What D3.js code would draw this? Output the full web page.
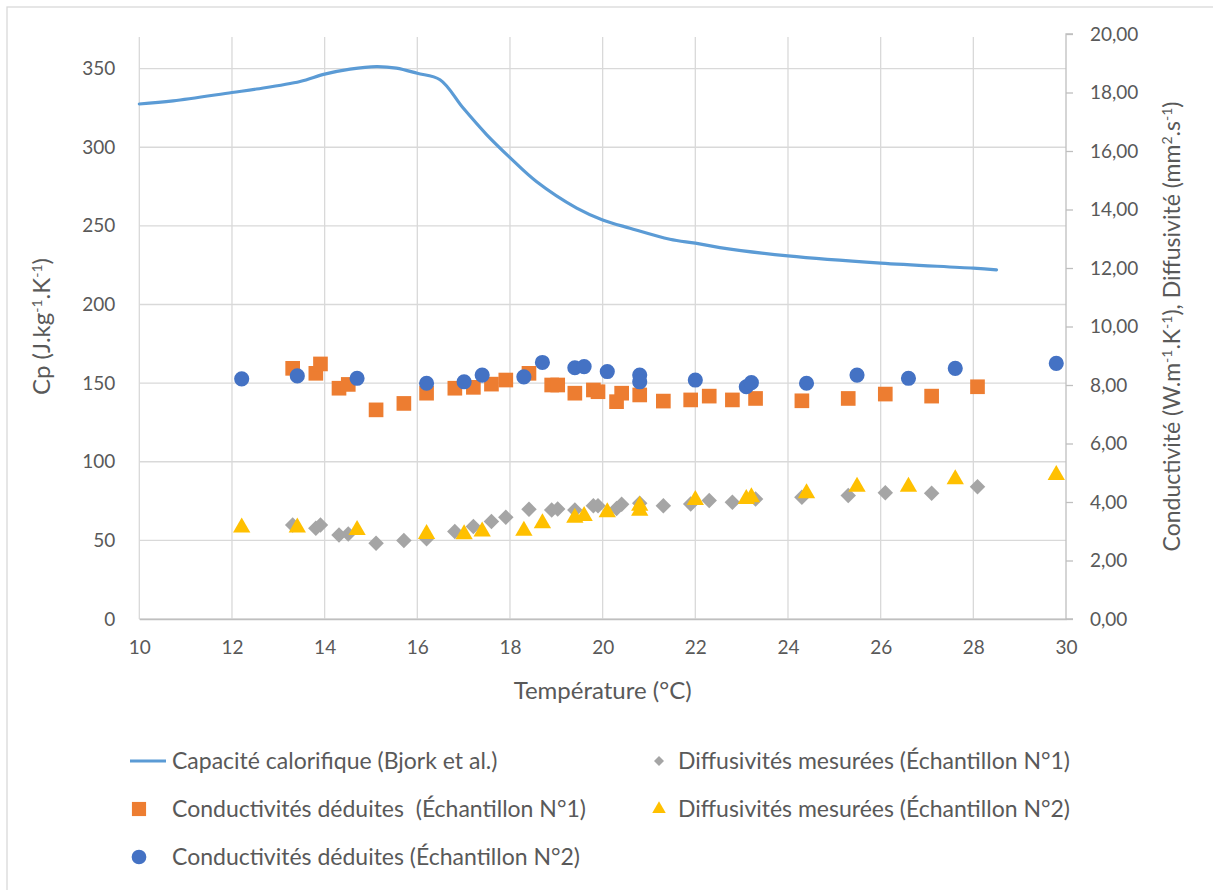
<!DOCTYPE html>
<html><head><meta charset="utf-8">
<script src="https://cdn.jsdelivr.net/npm/d3@7/dist/d3.min.js"></script>
<style>body{margin:0;background:#fff;}svg{display:block;font-family:Lato,"Open Sans",sans-serif;}</style>
</head><body>
<script>
// ---- Data ----
const cpTemp = [10, 10.73, 12, 12.53, 13.47, 14, 14.55, 15.12, 15.55, 16, 16.49, 16.99, 17.5, 18, 18.57, 19.44, 20, 20.59, 21.45, 22, 22.53, 24, 26, 28, 28.5];
const cpValues = [327.5, 329.5, 334.8, 337, 341.8, 346.5, 349.7, 351.3, 350.3, 347, 342.9, 324.9, 307.9, 293.4, 278.2, 261.3, 253.8, 248.5, 241.5, 239, 236.2, 230.9, 226.3, 223.1, 222];

const tempS1 = [13.31, 13.81, 13.91, 14.31, 14.51, 15.11, 15.71, 16.20, 16.81, 17.21, 17.60, 17.91, 18.41, 18.90, 19.03, 19.40, 19.80, 19.90, 20.30, 20.41, 20.80, 21.31, 21.90, 22.30, 22.80, 23.30, 24.30, 25.30, 26.10, 27.10, 28.09];
const diffS1 = [3.21, 3.10, 3.21, 2.87, 2.91, 2.59, 2.68, 2.74, 2.99, 3.16, 3.33, 3.48, 3.75, 3.73, 3.76, 3.73, 3.87, 3.87, 3.78, 3.92, 3.96, 3.87, 3.93, 4.05, 3.99, 4.10, 4.16, 4.22, 4.32, 4.30, 4.52];
const condS1 = [8.57, 8.40, 8.72, 7.89, 8.02, 7.15, 7.37, 7.72, 7.89, 7.92, 8.03, 8.17, 8.40, 8.00, 8.00, 7.72, 7.83, 7.77, 7.43, 7.72, 7.66, 7.45, 7.49, 7.62, 7.49, 7.54, 7.46, 7.54, 7.69, 7.62, 7.94];

const tempS2 = [12.21, 13.41, 14.70, 16.20, 17.01, 17.40, 18.30, 18.70, 19.40, 19.60, 20.10, 20.80, 20.80, 22.00, 23.10, 23.21, 24.40, 25.49, 26.60, 27.61, 29.79];
const diffS2 = [3.13, 3.13, 3.04, 2.91, 2.90, 2.99, 3.02, 3.27, 3.46, 3.52, 3.65, 3.87, 3.70, 4.07, 4.10, 4.16, 4.30, 4.52, 4.52, 4.78, 4.92];
const condS2 = [8.21, 8.31, 8.23, 8.06, 8.11, 8.34, 8.28, 8.77, 8.59, 8.63, 8.46, 8.34, 8.11, 8.17, 7.94, 8.08, 8.06, 8.34, 8.23, 8.57, 8.74];

const xTicks = [10, 12, 14, 16, 18, 20, 22, 24, 26, 28, 30];
const yLeftTicks = [0, 50, 100, 150, 200, 250, 300, 350];
const yRightTicks = [0, 2, 4, 6, 8, 10, 12, 14, 16, 18, 20];

const legendLabels = [
  "Capacité calorifique (Bjork et al.)",
  "Diffusivités mesurées (Échantillon N°1)",
  "Conductivités déduites  (Échantillon N°1)",
  "Diffusivités mesurées (Échantillon N°2)",
  "Conductivités déduites (Échantillon N°2)"
];

// ---- Layout ----
const W = 1213, H = 890;
const plot = {left: 139.3, right: 1066, top: 34, bottom: 619};
const txt = "#595959", grid = "#D9D9D9", axisCol = "#BFBFBF";
const FONT = 19;

const svg = d3.select("body").append("svg").attr("width", W).attr("height", H);

// chart border (cropped at right/bottom)
svg.append("rect").attr("x", 7).attr("y", 7).attr("width", 1240).attr("height", 920)
  .attr("fill", "none").attr("stroke", "#D9D9D9").attr("stroke-width", 1.3);

const x = d3.scaleLinear().domain([10, 30]).range([plot.left, plot.right]);
const yL = d3.scaleLinear().domain([0, 372]).range([plot.bottom, plot.top]);
const yR = d3.scaleLinear().domain([0, 20]).range([plot.bottom, plot.top]);

// gridlines
const g = svg.append("g");
g.selectAll("line.hg").data(yLeftTicks).join("line")
  .attr("x1", plot.left).attr("x2", plot.right)
  .attr("y1", d => yL(d)).attr("y2", d => yL(d))
  .attr("stroke", grid).attr("stroke-width", 1.3);
g.selectAll("line.vg").data(xTicks.filter(d => d < 30)).join("line")
  .attr("x1", d => x(d)).attr("x2", d => x(d))
  .attr("y1", plot.top + 3).attr("y2", plot.bottom)
  .attr("stroke", grid).attr("stroke-width", 1.3);

// right axis
const rAxis = d3.axisRight(yR).tickValues(yRightTicks).tickSize(7)
  .tickFormat(d => d3.format(".2f")(d).replace(".", ","));
const ra = svg.append("g").attr("transform", `translate(${plot.right},0)`).call(rAxis);
ra.select(".domain").attr("stroke", axisCol).attr("stroke-width", 1.3).attr("d", `M7,${plot.top}H0V${plot.bottom}H7`);
ra.selectAll(".tick line").attr("stroke", axisCol).attr("stroke-width", 1.3);
ra.selectAll(".tick text").attr("x", 24).attr("fill", txt).style("font-size", FONT + "px").style("font-family", "Lato");

// left axis (labels only)
const lAxis = d3.axisLeft(yL).tickValues(yLeftTicks).tickSize(0).tickPadding(24);
const la = svg.append("g").attr("transform", `translate(${plot.left},0)`).call(lAxis);
la.select(".domain").remove();
la.selectAll(".tick text").attr("fill", txt).style("font-size", FONT + "px").style("font-family", "Lato");

// bottom axis
const bAxis = d3.axisBottom(x).tickValues(xTicks).tickSize(0).tickPadding(22);
const ba = svg.append("g").attr("transform", `translate(0,${plot.bottom})`).call(bAxis);
ba.select(".domain").attr("stroke", axisCol).attr("stroke-width", 1.3);
ba.selectAll(".tick text").attr("fill", txt).style("font-size", FONT + "px").style("font-family", "Lato");

// axis titles
function supText(sel, parts) {
  parts.forEach(p => {
    if (typeof p === "string") sel.append("tspan").text(p);
    else sel.append("tspan").attr("baseline-shift", "super").style("font-size", "14px").text(p.sup);
  });
}
svg.append("text").attr("x", (plot.left + plot.right) / 2).attr("y", 699)
  .attr("text-anchor", "middle").attr("fill", txt).style("font-size", "24px").text("Température (°C)");

const lt = svg.append("text").attr("transform", `translate(50,${(plot.top + plot.bottom) / 2}) rotate(-90)`)
  .attr("text-anchor", "middle").attr("fill", txt).style("font-size", "24px");
supText(lt, ["Cp (J.kg", {sup: "-1"}, ".K", {sup: "-1"}, ")"]);

const rt = svg.append("text").attr("transform", `translate(1180,${(plot.top + plot.bottom) / 2}) rotate(-90)`)
  .attr("text-anchor", "middle").attr("fill", txt).style("font-size", "23px");
supText(rt, ["Conductivité (W.m", {sup: "-1"}, ".K", {sup: "-1"}, "), Diffusivité (mm", {sup: "2"}, ".s", {sup: "-1"}, ")"]);

// ---- Series ----
const cpData = cpTemp.map((t, i) => [t, cpValues[i]]);
svg.append("path").datum(cpData)
  .attr("d", d3.line().x(d => x(d[0])).y(d => yL(d[1])).curve(d3.curveCatmullRom.alpha(0.5)))
  .attr("fill", "none").attr("stroke", "#5B9BD5").attr("stroke-width", 3.2).attr("stroke-linecap", "round");

const diamond = d3.symbol().type(d3.symbolSquare).size(120);
const square = d3.symbol().type(d3.symbolSquare).size(215);
const triangle = d3.symbol().type(d3.symbolTriangle).size(130);
const circle = d3.symbol().type(d3.symbolCircle).size(180);

function scatter(temps, vals, sym, color, rot) {
  svg.append("g").selectAll("path").data(temps.map((t, i) => [t, vals[i]])).join("path")
    .attr("transform", d => `translate(${x(d[0])},${yR(d[1])}) rotate(${rot || 0})`)
    .attr("d", sym).attr("fill", color);
}
scatter(tempS1, diffS1, diamond, "#A5A5A5", 45);
scatter(tempS1, condS1, square, "#ED7D31");
scatter(tempS2, diffS2, triangle, "#FFC000");
scatter(tempS2, condS2, circle, "#4472C4");

// ---- Legend ----
const leg = svg.append("g").style("font-size", "23px").attr("fill", txt);
const legItems = [
  {col: 0, row: 0, type: "line", color: "#5B9BD5"},
  {col: 1, row: 0, type: "diamond", color: "#A5A5A5"},
  {col: 0, row: 1, type: "square", color: "#ED7D31"},
  {col: 1, row: 1, type: "triangle", color: "#FFC000"},
  {col: 0, row: 2, type: "circle", color: "#4472C4"}
];
const colX = [139, 659], textX = [172, 678], rowY = [761, 809, 857];
legItems.forEach((it, i) => {
  const cx = colX[it.col], cy = rowY[it.row];
  if (it.type === "line") {
    leg.append("line").attr("x1", cx - 9).attr("x2", cx + 27).attr("y1", cy).attr("y2", cy)
      .attr("stroke", it.color).attr("stroke-width", 3.2);
  } else {
    const s = {diamond: d3.symbol().type(d3.symbolSquare).size(50),
               square: d3.symbol().type(d3.symbolSquare).size(200),
               triangle: d3.symbol().type(d3.symbolTriangle).size(80),
               circle: d3.symbol().type(d3.symbolCircle).size(170)}[it.type];
    leg.append("path").attr("transform", `translate(${cx},${cy}) rotate(${it.type === "diamond" ? 45 : 0})`)
      .attr("d", s).attr("fill", it.color);
  }
  leg.append("text").attr("x", textX[it.col]).attr("y", cy).attr("dy", "0.35em")
    .style("white-space", "pre").attr("xml:space", "preserve").text(legendLabels[i]);
});
</script>
</body></html>
